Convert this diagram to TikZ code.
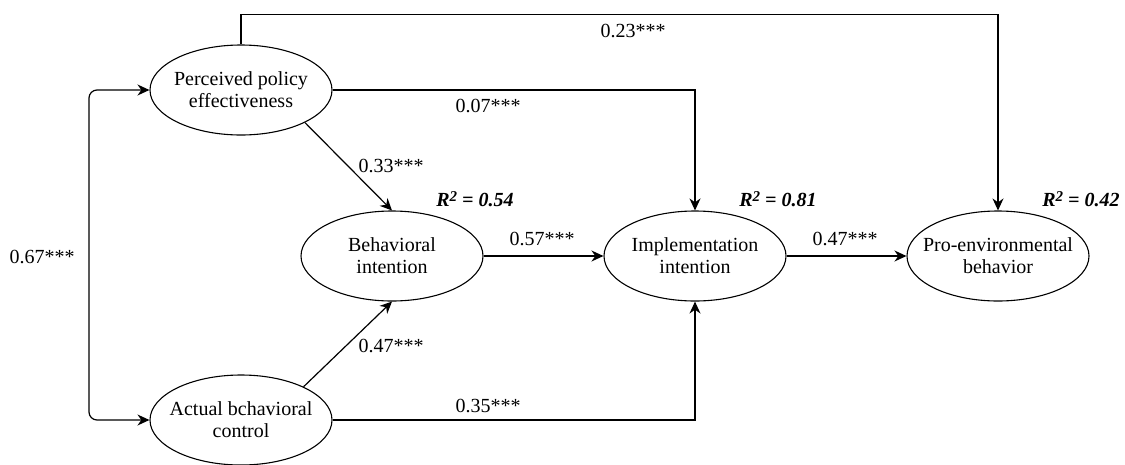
\documentclass[tikz,border=0pt]{standalone}
\usepackage{fontspec}
\setmainfont{Liberation Serif}
\usetikzlibrary{shapes.geometric,arrows.meta}

\newcommand{\rtwo}{R\raisebox{0.55ex}{\fontsize{15}{15}\selectfont 2}}

\begin{document}
\begin{tikzpicture}[
    x=1pt, y=-1pt,
    latent/.style={ellipse, draw=black, line width=1.1pt, fill=white,
        minimum width=182pt, minimum height=90pt, inner xsep=-25pt, inner ysep=0pt,
        align=center, font=\fontsize{20}{22}\selectfont},
    link/.style={line width=1.2pt, -{Stealth[length=12pt,width=11pt]}},
    coef/.style={font=\fontsize{20}{22}\selectfont, inner sep=1pt},
    rsq/.style={font=\fontsize{20}{22}\selectfont\bfseries\itshape, inner sep=1pt}
]
    \useasboundingbox (0,0) rectangle (1125,464);
    % constructs
    \node[latent] (ppe) at (241,90) {Perceived policy\\effectiveness};
    \node[latent] (abc) at (241,420) {Actual bchavioral\\control};
    \node[latent] (bi) at (392,256) {Behavioral\\intention};
    \node[latent] (ii) at (695,256) {Implementation\\intention};
    \node[latent] (peb) at (998,256) {Pro-environmental\\behavior};
    % paths
    \draw[link] (ppe.north) -- ++(0,-30) -| (peb.north);
    \draw[link] (ppe.east) -| (ii.north);
    \draw[link] (abc.east) -| (ii.south);
    \draw[link] (ppe.-27) -- (bi.north);
    \draw[link] (abc.28) -- (bi.south);
    \draw[link] (bi) -- (ii);
    \draw[link] (ii) -- (peb);
    \draw[link, {Stealth[length=12pt,width=11pt]}-{Stealth[length=12pt,width=11pt]},
        rounded corners=8pt] (ppe.west) -- (89,90) -- (89,420) -- (abc.west);
    % coefficients
    \node[coef] (c23) at (633,31) {0.23***};
    \node[coef] (c07) at (488,106) {0.07***};
    \node[coef] (c33) at (391,166) {0.33***};
    \node[coef] (c47a) at (391,346) {0.47***};
    \node[coef] (c67) at (42,257) {0.67***};
    \node[coef] (c35) at (488,406) {0.35***};
    \node[coef] (c57) at (542,239) {0.57***};
    \node[coef] (c47b) at (845,239) {0.47***};
    % explained variance
    \node[rsq] (rbi) at (475,199) {\rtwo{} = 0.54};
    \node[rsq] (rii) at (778,199) {\rtwo{} = 0.81};
    \node[rsq] (rpeb) at (1081,199) {\rtwo{} = 0.42};
\end{tikzpicture}
\end{document}
